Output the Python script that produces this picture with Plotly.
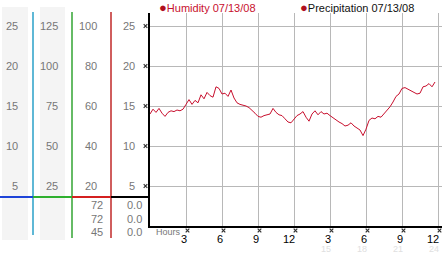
import plotly.graph_objects as go

# ---- data ----
hours = [i * 0.25 for i in range(96)]
humidity = [14.0, 14.6, 14.2, 14.7, 14.1, 13.7, 14.2, 14.4, 14.3, 14.5, 14.4, 14.6,
            15.2, 15.8, 15.2, 15.7, 15.4, 16.4, 15.9, 16.7, 16.3, 16.1, 17.4, 17.2,
            16.5, 16.6, 16.2, 17.0, 16.0, 15.4, 15.2, 15.1, 15.0, 14.8, 14.5, 14.1,
            13.7, 13.6, 13.8, 13.9, 14.0, 14.7, 14.2, 13.9, 13.8, 13.4, 13.0, 12.9,
            13.4, 13.8, 14.0, 14.3, 13.6, 13.1, 14.0, 14.4, 13.9, 14.3, 14.0, 14.1,
            13.8, 13.5, 13.2, 13.0, 12.8, 12.5, 12.6, 12.9, 12.5, 12.2, 12.0, 11.3,
            12.1, 13.2, 13.5, 13.4, 13.7, 13.6, 14.0, 14.5, 14.9, 15.5, 16.2, 16.5,
            17.2, 17.3, 17.1, 17.0, 16.7, 16.5, 16.6, 17.4, 17.5, 17.8, 17.4, 18.0]

scale1 = [25, 20, 15, 10, 5]
scale2 = [125, 100, 75, 50, 25]
scale3 = [100, 80, 60, 40, 20]
scale4 = [25, 20, 15, 10, 5]
rows3 = ["72", "72", "45"]
rows4 = ["0.0", "0.0", "0.0"]
hour_ticks = [3, 6, 9, 12, 15, 18, 21, 24]
hour_labels = ["3", "6", "9", "12", "3", "6", "9", "12"]
hour_labels2 = ["", "", "", "", "15", "18", "21", "24"]
legend_items = [("Humidity 07/13/08", "#c8102e", "#b0101e"),
                ("Precipitation 07/13/08", "#111111", "#b0101e")]

W, H = 442, 253
L, R, T, B = 150, 0, 13, 27
PW, PH = W - L - R, H - T - B
XPX, YPX = 12, 8  # pixels per hour / per unit


def xp(px):
    return (px - L) / PW


def yp(py):
    return (H - B - py) / PH


FONT = "Liberation Sans"
GRAY = "#777777"

fig = go.Figure()
fig.add_trace(go.Scatter(x=hours, y=humidity, mode="lines",
                         line=dict(color="#c8102e", width=1), hoverinfo="skip"))

shapes = []
for x0, x1 in [(2, 28), (40, 65)]:
    shapes.append(dict(type="rect", xref="paper", yref="paper", x0=xp(x0), x1=xp(x1),
                       y0=yp(240), y1=yp(7), fillcolor="#f4f4f4", line=dict(width=0),
                       layer="below"))
for x, c, y1 in [(33, "#2aa0c8", 235), (72, "#33a533", 238), (111, "#c02828", 238)]:
    shapes.append(dict(type="line", xref="paper", yref="paper", x0=xp(x), x1=xp(x),
                       y0=yp(12), y1=yp(y1), line=dict(color=c, width=1.5)))
for x0, x1, c in [(0, 33, "#1e44d8"), (33, 72, "#2fb02f"), (72, 111, "#d42020"),
                  (111, 150, "#000000")]:
    shapes.append(dict(type="line", xref="paper", yref="paper", x0=xp(x0), x1=xp(x1),
                       y0=yp(197), y1=yp(197), line=dict(color=c, width=2)))


def tick_mark(cx, cy):
    # small "x" glyph centred on pixel (cx, cy)
    a, b = xp(cx - 1.8), xp(cx + 1.8)
    c, d = yp(cy - 1.8), yp(cy + 1.8)
    return dict(type="path", xref="paper", yref="paper",
                path=f"M {a} {c} L {b} {d} M {a} {d} L {b} {c}",
                line=dict(color="#333", width=1.2))


for yv in scale4:
    shapes.append(tick_mark(145.5, H - B - yv * YPX))
for t in hour_ticks:
    shapes.append(tick_mark(L + t * XPX + 1.5, 230.5))

ann = []
for cols, right in [(scale1, 20), (scale2, 60), (scale3, 99), (scale4, 137)]:
    for lab, yv in zip(cols, scale4):
        ann.append(dict(text=str(lab), xref="paper", yref="y", x=xp(right), y=yv,
                        xanchor="right", yanchor="middle", showarrow=False,
                        font=dict(family=FONT, size=11, color=GRAY)))
for lab3, lab4, py in zip(rows3, rows4, [204.7, 218.7, 232.3]):
    ann.append(dict(text=lab3, xref="paper", yref="paper", x=xp(105), y=yp(py),
                    xanchor="right", yanchor="middle", showarrow=False,
                    font=dict(family=FONT, size=11, color=GRAY)))
    ann.append(dict(text=lab4, xref="paper", yref="paper", x=xp(144), y=yp(py),
                    xanchor="right", yanchor="middle", showarrow=False,
                    font=dict(family=FONT, size=11, color=GRAY)))
ann.append(dict(text="Hours", xref="paper", yref="paper", x=xp(154), y=yp(232),
                xanchor="left", yanchor="middle", showarrow=False,
                font=dict(family=FONT, size=9, color=GRAY)))
for t, l1, l2 in zip(hour_ticks, hour_labels, hour_labels2):
    ann.append(dict(text=l1, xref="x", yref="paper", x=t, y=yp(238.5), xshift=3,
                    xanchor="right", yanchor="middle", showarrow=False,
                    font=dict(family=FONT, size=11, color="#000")))
    if l2:
        ann.append(dict(text=l2, xref="x", yref="paper", x=t, y=yp(249), xshift=3,
                        xanchor="right", yanchor="middle", showarrow=False,
                        font=dict(family=FONT, size=9, color="#e0e0e0")))
for (name, tc, dc), px in zip(legend_items, [157, 298]):
    ann.append(dict(text=f"<span style='color:{dc};font-size:13px'>●</span>{name}",
                    xref="paper", yref="paper", x=xp(px), y=yp(7), xanchor="left",
                    yanchor="middle", showarrow=False,
                    font=dict(family=FONT, size=11, color=tc)))

fig.update_layout(
    width=W, height=H, margin=dict(l=L, r=R, t=T, b=B),
    paper_bgcolor="white", plot_bgcolor="white", showlegend=False,
    shapes=shapes, annotations=ann,
    xaxis=dict(range=[0, PW / XPX], tickvals=hour_ticks, showticklabels=False,
               showgrid=True, gridcolor="#b8b8b8", gridwidth=1, zeroline=False,
               showline=True, linecolor="#000", linewidth=2, ticks="", fixedrange=True),
    yaxis=dict(range=[0, PH / YPX], tickvals=scale4, showticklabels=False,
               showgrid=True, gridcolor="#b8b8b8", gridwidth=1, zeroline=False,
               showline=True, linecolor="#000", linewidth=2, ticks="", fixedrange=True),
)
fig.write_html("out.html", config={"displayModeBar": False})
